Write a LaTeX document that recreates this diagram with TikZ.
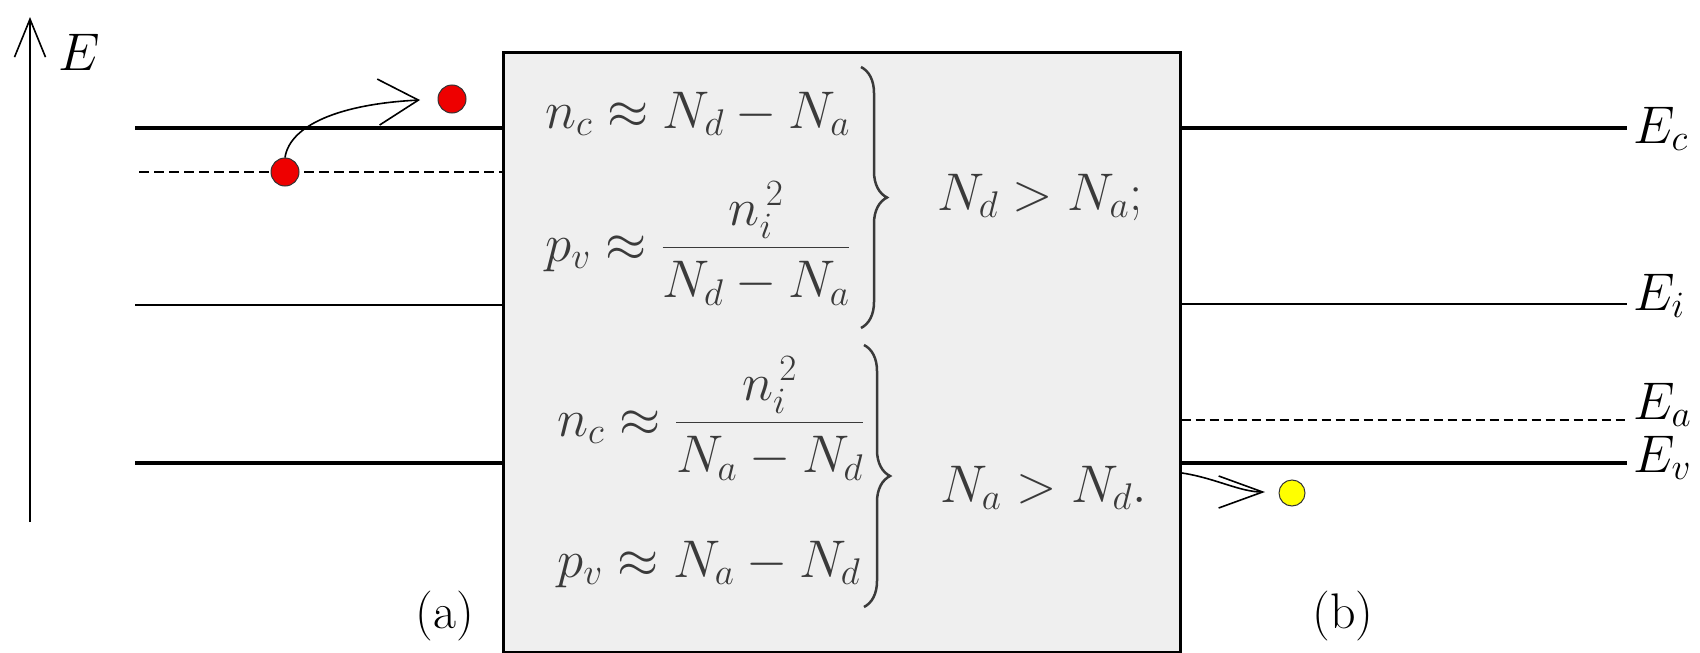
\RequirePackage{fix-cm}
\documentclass[tikz,border=0pt]{standalone}
\usepackage{amsmath}
\usetikzlibrary{arrows.meta,decorations.pathreplacing}
\definecolor{boxgray}{HTML}{EFEFEF}
\definecolor{eqgray}{HTML}{3A3A3A}
\definecolor{dotred}{HTML}{EE0000}
\definecolor{dotyellow}{HTML}{FFFF00}
\tikzset{
 thickline/.style={line width=4pt},
 thinline/.style={line width=1.6pt},
 dashline/.style={line width=1.5pt, dash pattern=on 10pt off 5pt},
 dashline2/.style={line width=1.5pt, dash pattern=on 9pt off 5pt},
 big/.style={font=\fontsize{53}{60}\selectfont},
 eq/.style={big, text=eqgray, inner sep=0pt, anchor=base west},
 lbl/.style={big, inner sep=0pt, anchor=base west},
 dot/.style={circle, draw=black!80, line width=1pt, inner sep=0pt, minimum size=28pt},
 bracestyle/.style={decorate, decoration={brace, amplitude=26pt}, line width=2.5pt, eqgray},
 hop/.style={line width=1.6pt, -{Straight Barb[length=40pt, width=46pt]}},
 hop2/.style={line width=1.6pt, -{Straight Barb[length=44pt, width=32pt]}},
 axisarrow/.style={line width=1.6pt, -{Straight Barb[length=38pt, width=31pt]}},
 partlbl/.style={font=\fontsize{50}{60}\selectfont, inner sep=0pt},
}
\begin{document}
\begin{tikzpicture}[x=1pt,y=-1pt]
\useasboundingbox (0,0) rectangle (1700,653);
% central box
\node[draw, line width=3pt, fill=boxgray, minimum width=677pt, minimum height=600pt, inner sep=0pt] (box) at (841.5,352) {};
% energy axis
\coordinate (axbot) at (30,522);
\coordinate (axtop) at (30,17);
\draw[axisarrow] (axbot) -- (axtop);
\node[lbl] (Elab) at (58,70) {$E$};
% left levels
\coordinate (lc) at (135,128);
\coordinate (ld) at (139,172);
\coordinate (li) at (135,305);
\coordinate (lv) at (135,463);
\draw[thickline] (lc) -- (lc -| box.west);
\draw[dashline] (ld) -- (ld -| box.west);
\draw[thinline] (li) -- (li -| box.west);
\draw[thickline] (lv) -- (lv -| box.west);
% right levels
\coordinate (rc) at (1627,128);
\coordinate (ri) at (1627,304);
\coordinate (ra) at (1627,420);
\coordinate (rv) at (1627,463);
\draw[thickline] (rc -| box.east) -- (rc);
\draw[thinline] (ri -| box.east) -- (ri);
\draw[dashline2] (ra -| box.east) -- (ra);
\draw[thickline] (rv -| box.east) -- (rv);
\node[lbl] (Ec) at (1633,143) {$E_c$};
\node[lbl] (Ei) at (1633,310) {$E_i$};
\node[lbl] (Ea) at (1633,419) {$E_a$};
\node[lbl] (Ev) at (1633,472) {$E_v$};
% electrons
\node[dot, fill=dotred] (d1) at (285,172) {};
\node[dot, fill=dotred, minimum size=28pt] (d2) at (452,99) {};
\coordinate (hopend) at (420,100);
\draw[hop] (d1.north) .. controls (290,125) and (340,104) .. (hopend);
% hole
\node[dot, fill=dotyellow, minimum size=26pt] (h1) at (1292,493) {};
\coordinate (hs) at (1182,473);
\coordinate (he) at (1265,492);
\draw[hop2] (hs) .. controls (1215,478) and (1240,492) .. (he);
% equations
\node[eq] (eq1) at (545,128) {$n_c \approx N_d - N_a$};
\node[eq] (eq2) at (545,261) {$p_v \approx \dfrac{n_i^{\,2}}{N_d - N_a}$};
\node[eq] (eq3) at (557,436) {$n_c \approx \dfrac{n_i^{\,2}}{N_a - N_d}$};
\node[eq] (eq4) at (557,577) {$p_v \approx N_a - N_d$};
\coordinate (b1t) at (861,67);
\coordinate (b1b) at (861,328);
\coordinate (b2t) at (864,345);
\coordinate (b2b) at (864,607);
\draw[bracestyle] (b1t) -- (b1b);
\draw[bracestyle] (b2t) -- (b2b);
\node[eq] (c1) at (937,210) {$N_d > N_a;$};
\node[eq] (c2) at (940,502) {$N_a > N_d.$};
% part labels
\node[partlbl] (la) at (445,616) {(a)};
\node[partlbl] (lb) at (1343,616) {(b)};
\end{tikzpicture}
\end{document}
